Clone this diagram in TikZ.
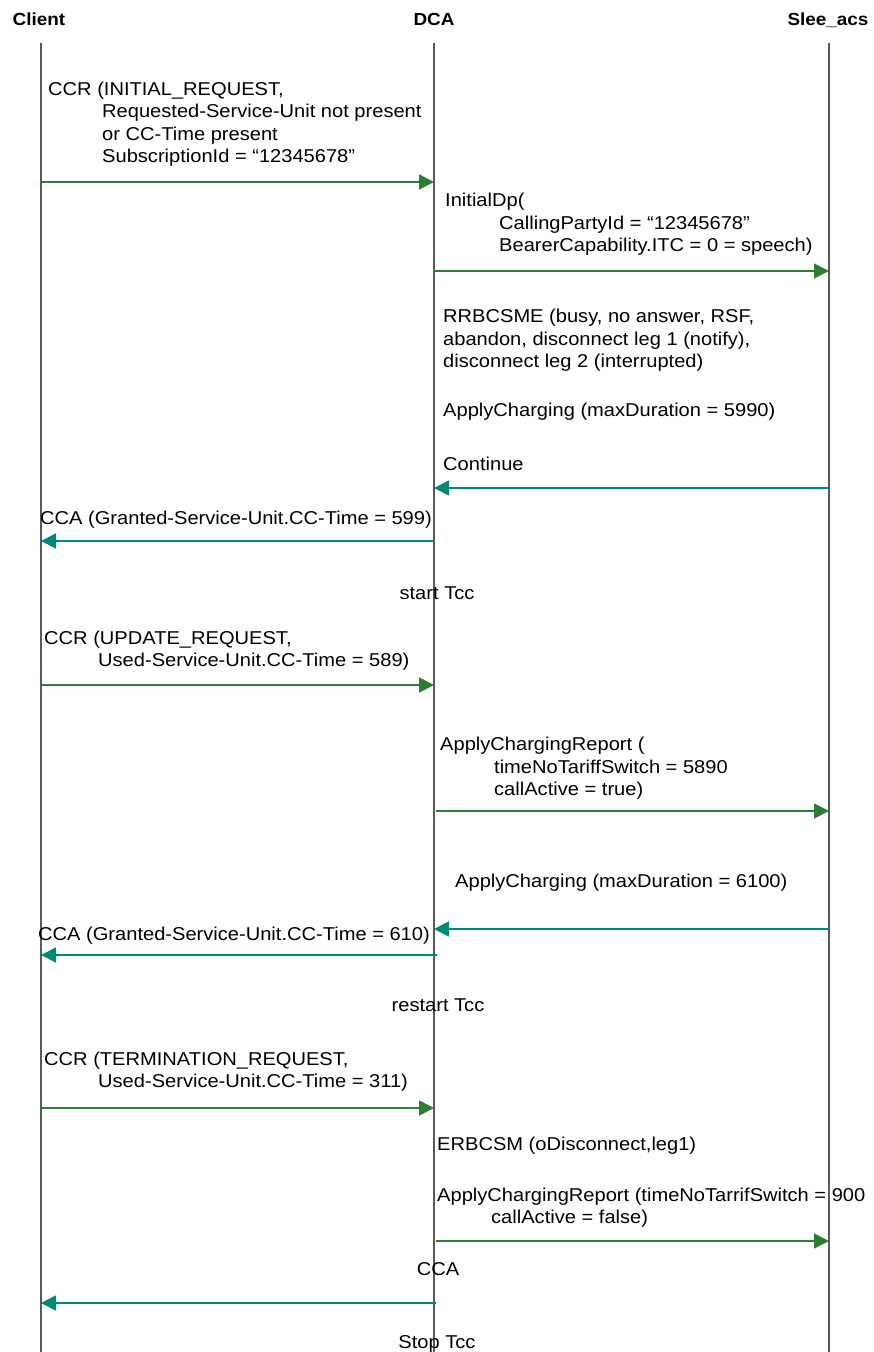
\documentclass[tikz,border=0pt]{standalone}
\usepackage{fontspec}
\setmainfont{Liberation Sans}[FakeStretch=1.08]
\usetikzlibrary{arrows.meta}
\definecolor{reqgreen}{RGB}{44,126,50}
\definecolor{ansteal}{RGB}{0,138,118}
\newcommand\msgfont{\fontsize{18.6}{22.3}\selectfont}
\newcommand\ind{\hspace*{54pt}}

\begin{document}
\begin{tikzpicture}[x=1pt,y=-1pt,
    life/.style={draw=black!65, line width=1.1pt},
    actor/.style={anchor=base, font=\fontsize{17.5}{21}\selectfont\bfseries},
    msg/.style={anchor=base west, align=left, font=\msgfont},
    timer/.style={anchor=base, font=\msgfont},
    req/.style={draw=reqgreen, line width=1.8pt, -{Triangle[length=15pt,width=15pt]}},
    ans/.style={draw=ansteal, line width=1.8pt, -{Triangle[length=15pt,width=15pt]}}]
    \tikzset{every node/.append style={inner sep=0pt}}
    \useasboundingbox (0,0) rectangle (873,1352);
    \node[actor] (client) at (39,25) {Client};
    \node[actor] (dca) at (434,25) {DCA};
    \node[actor] (slee) at (828,25) {Slee\_acs};
    \coordinate (cl) at (41,43);
    \coordinate (dc) at (434,43);
    \coordinate (sl) at (829,43);
    \draw[life] (cl) -- (cl |- 0,1352);
    \draw[life] (dc) -- (dc |- 0,1352);
    \draw[life] (sl) -- (sl |- 0,1352);
    \node[msg] (ccrinit) at (48,162.5) {CCR (INITIAL\_REQUEST,\\
        \ind Requested-Service-Unit not present\\
        \ind or CC-Time present\\
        \ind SubscriptionId = ``12345678''};
    \draw[req] (cl |- 0,182) -- (dc |- 0,182);
    \node[msg] (idp) at (445,251.5) {InitialDp(\\
        \ind CallingPartyId = ``12345678''\\
        \ind BearerCapability.ITC = 0 = speech)};
    \draw[req] (dc |- 0,271) -- (sl |- 0,271);
    \node[msg] (rrb) at (443,367.5) {RRBCSME (busy, no answer, RSF,\\
        abandon, disconnect leg 1 (notify),\\
        disconnect leg 2 (interrupted)};
    \node[msg] (ac1) at (443,416.5) {ApplyCharging (maxDuration = 5990)};
    \node[msg] (cont) at (443,470.5) {Continue};
    \draw[ans] (sl |- 0,488) -- (dc |- 0,488);
    \node[msg] (cca1) at (40,524.5) {CCA (Granted-Service-Unit.CC-Time = 599)};
    \draw[ans] (dc |- 0,541) -- (cl |- 0,541);
    \node[timer] (tstart) at (437,599.5) {start Tcc};
    \node[msg] (ccrupd) at (44,666.5) {CCR (UPDATE\_REQUEST,\\
        \ind Used-Service-Unit.CC-Time = 589)};
    \draw[req] (cl |- 0,685) -- (dc |- 0,685);
    \node[msg] (acr1) at (440,795.5) {ApplyChargingReport (\\
        \ind timeNoTariffSwitch = 5890\\
        \ind callActive = true)};
    \draw[req] ([xshift=2pt]dc |- 0,811) -- (sl |- 0,811);
    \node[msg] (ac2) at (455,887.5) {ApplyCharging (maxDuration = 6100)};
    \draw[ans] (sl |- 0,929) -- (dc |- 0,929);
    \node[msg] (cca2) at (38,940.5) {CCA (Granted-Service-Unit.CC-Time = 610)};
    \draw[ans] ([xshift=3pt]dc |- 0,955) -- (cl |- 0,955);
    \node[timer] (trestart) at (438,1011.5) {restart Tcc};
    \node[msg] (ccrterm) at (44,1087.5) {CCR (TERMINATION\_REQUEST,\\
        \ind Used-Service-Unit.CC-Time = 311)};
    \draw[req] (cl |- 0,1108) -- (dc |- 0,1108);
    \node[msg] (erb) at (437,1150.5) {ERBCSM (oDisconnect,leg1)};
    \node[msg] (acr2) at (437,1223.5) {ApplyChargingReport (timeNoTarrifSwitch = 900\\
        \ind callActive = false)};
    \draw[req] ([xshift=2pt]dc |- 0,1241) -- (sl |- 0,1241);
    \node[timer] (cca3) at (438,1275.5) {CCA};
    \draw[ans] ([xshift=2pt]dc |- 0,1303) -- (cl |- 0,1303);
    \node[timer] (tstop) at (437,1348.5) {Stop Tcc};
\end{tikzpicture}
\end{document}
